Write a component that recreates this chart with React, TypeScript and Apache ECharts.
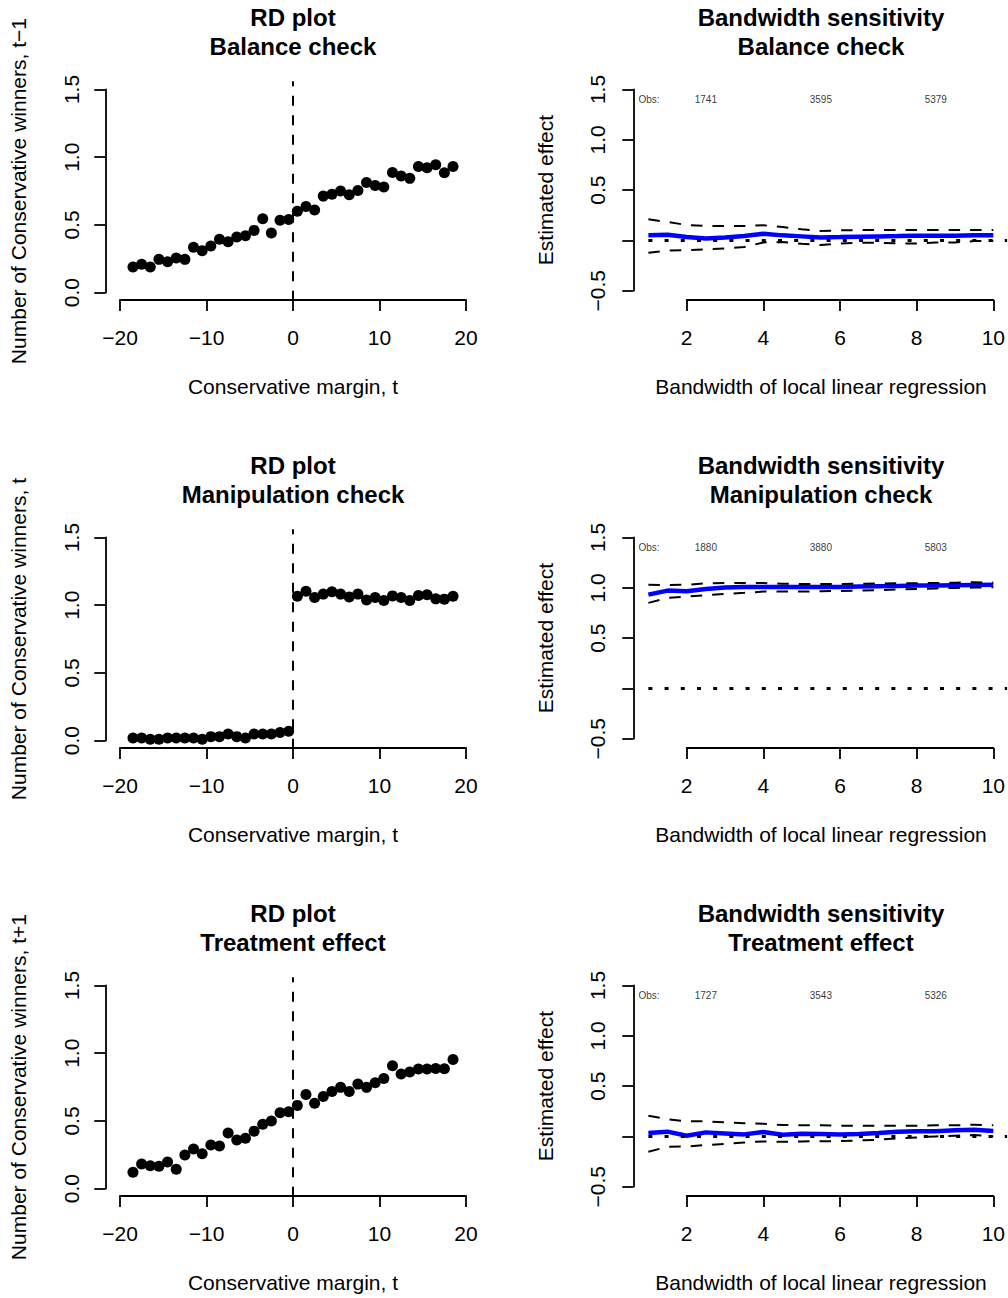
import React, { useEffect, useRef } from "react";
import * as echarts from "echarts";

// ---------- DATA ----------
const marginBins = [
  -18.5, -17.5, -16.5, -15.5, -14.5, -13.5, -12.5, -11.5, -10.5, -9.5, -8.5, -7.5, -6.5, -5.5, -4.5, -3.5, -2.5, -1.5, -0.5,
  0.5, 1.5, 2.5, 3.5, 4.5, 5.5, 6.5, 7.5, 8.5, 9.5, 10.5, 11.5, 12.5, 13.5, 14.5, 15.5, 16.5, 17.5, 18.5,
];

const balanceWinners = [
  0.19, 0.21, 0.19, 0.246, 0.229, 0.256, 0.246, 0.335, 0.31, 0.344, 0.394, 0.376, 0.411, 0.42, 0.46, 0.546, 0.44, 0.534, 0.541,
  0.602, 0.637, 0.61, 0.713, 0.726, 0.75, 0.723, 0.755, 0.814, 0.792, 0.78, 0.888, 0.861, 0.844, 0.932, 0.922, 0.944, 0.885, 0.932,
];

const manipulationWinners = [
  0.02, 0.02, 0.01, 0.01, 0.02, 0.02, 0.02, 0.02, 0.01, 0.03, 0.03, 0.05, 0.03, 0.02, 0.05, 0.05, 0.05, 0.06, 0.07,
  1.067, 1.104, 1.057, 1.082, 1.099, 1.082, 1.06, 1.082, 1.038, 1.057, 1.035, 1.069, 1.057, 1.035, 1.072, 1.077, 1.047, 1.045, 1.067,
];

const treatmentWinners = [
  0.121, 0.182, 0.17, 0.165, 0.197, 0.143, 0.249, 0.293, 0.258, 0.322, 0.315, 0.411, 0.359, 0.372, 0.425, 0.475, 0.499, 0.561, 0.568,
  0.615, 0.696, 0.63, 0.681, 0.718, 0.748, 0.718, 0.772, 0.748, 0.782, 0.814, 0.907, 0.846, 0.861, 0.883, 0.883, 0.888, 0.885, 0.954,
];

const bandwidths = [1, 1.5, 2, 2.5, 3, 3.5, 4, 4.5, 5, 5.5, 6, 6.5, 7, 7.5, 8, 8.5, 9, 9.5, 10];

const balanceEst = [0.05, 0.056, 0.033, 0.02, 0.03, 0.043, 0.066, 0.05, 0.04, 0.03, 0.033, 0.037, 0.04, 0.043, 0.047, 0.047, 0.047, 0.05, 0.05];
const balanceUpper = [0.21, 0.183, 0.153, 0.143, 0.143, 0.143, 0.15, 0.133, 0.11, 0.093, 0.1, 0.103, 0.103, 0.103, 0.103, 0.103, 0.103, 0.103, 0.103];
const balanceLower = [-0.123, -0.1, -0.096, -0.09, -0.08, -0.066, -0.02, -0.017, -0.033, -0.046, -0.03, -0.023, -0.023, -0.03, -0.03, -0.02, -0.02, -0.007, -0.007];

const manipulationEst = [0.932, 0.972, 0.965, 0.989, 1.002, 1.009, 1.009, 1.009, 1.009, 1.009, 1.009, 1.012, 1.015, 1.018, 1.022, 1.024, 1.026, 1.028, 1.03];
const manipulationUpper = [1.03, 1.027, 1.03, 1.045, 1.048, 1.048, 1.048, 1.04, 1.038, 1.038, 1.038, 1.04, 1.042, 1.045, 1.045, 1.048, 1.05, 1.055, 1.052];
const manipulationLower = [0.85, 0.9, 0.913, 0.925, 0.94, 0.95, 0.962, 0.962, 0.962, 0.965, 0.969, 0.973, 0.976, 0.983, 0.989, 0.994, 0.999, 1.002, 1.005];

const treatmentEst = [0.033, 0.047, 0.007, 0.04, 0.03, 0.02, 0.043, 0.017, 0.027, 0.025, 0.02, 0.025, 0.033, 0.047, 0.05, 0.05, 0.06, 0.066, 0.053];
const treatmentUpper = [0.206, 0.17, 0.15, 0.15, 0.14, 0.13, 0.125, 0.113, 0.11, 0.11, 0.107, 0.107, 0.107, 0.107, 0.107, 0.11, 0.11, 0.116, 0.11];
const treatmentLower = [-0.153, -0.103, -0.1, -0.085, -0.076, -0.06, -0.05, -0.053, -0.05, -0.047, -0.047, -0.04, -0.033, -0.02, -0.01, 0.0, 0.007, 0.013, 0.0];

const obsBandwidths = [2.5, 5.5, 8.5];
const balanceObs = [1741, 3595, 5379];
const manipulationObs = [1880, 3880, 5803];
const treatmentObs = [1727, 3543, 5326];

const rowSubtitles = ["Balance check", "Manipulation check", "Treatment effect"];
const leftYTitles = [
  "Number of Conservative winners, t\u22121",
  "Number of Conservative winners, t",
  "Number of Conservative winners, t+1",
];
const leftXTitle = "Conservative margin, t";
const rightXTitle = "Bandwidth of local linear regression";
const rightYTitle = "Estimated effect";

// ---------- LAYOUT ----------
const FONT = "'Liberation Sans', Arial, Helvetica, sans-serif";
const AXIS_FS = 21;
const rowOffsets = [0, 448, 896];
const L = { left: 120, width: 346, top: 89.5, height: 203.2, xOff: 7.3, yOff: 14.7 };
const R = { left: 686.7, width: 306.6, top: 89.5, height: 201.2, xOff: 9.3, yOff: 53.4 };
// plot region (usr) of the right panels, used for the data layer
const RIGHT_USR_X = [0.64, 10.36];
const LEFT_USR_Y = [-0.06, 1.56];
const ZERO_LINE_START = 1.0;
const OBS_LABEL_X = 0.74;
const OBS_LABEL_Y = 1.4;

const minus = (s: string) => s.replace("-", "\u2212");

function axisBase(extra: any) {
  return {
    axisLine: { show: true, onZero: false, lineStyle: { color: "#000", width: 1.8 } },
    axisTick: { show: true, inside: false, length: 11, lineStyle: { color: "#000", width: 1.8 } },
    splitLine: { show: false },
    nameTextStyle: { color: "#000", fontSize: AXIS_FS, fontFamily: FONT },
    ...extra,
  };
}

const hiddenAxis = (extra: any) => ({
  type: "value",
  show: false,
  axisLine: { show: false },
  axisTick: { show: false },
  axisLabel: { show: false },
  splitLine: { show: false },
  ...extra,
});

function buildOption() {
  const grid: any[] = [];
  const xAxis: any[] = [];
  const yAxis: any[] = [];
  const series: any[] = [];
  const graphic: any[] = [];

  const leftData = [balanceWinners, manipulationWinners, treatmentWinners];
  const est = [balanceEst, manipulationEst, treatmentEst];
  const upper = [balanceUpper, manipulationUpper, treatmentUpper];
  const lower = [balanceLower, manipulationLower, treatmentLower];
  const obs = [balanceObs, manipulationObs, treatmentObs];

  const pxPerUnitR = R.width / 8;
  const usrLeftPx = R.left - (2 - RIGHT_USR_X[0]) * pxPerUnitR;
  const usrWidthPx = (RIGHT_USR_X[1] - RIGHT_USR_X[0]) * pxPerUnitR;

  rowOffsets.forEach((off, r) => {
    // ---- left RD plot ----
    const gi = grid.length;
    grid.push({ left: L.left, width: L.width, top: L.top + off, height: L.height });
    xAxis.push(
      axisBase({
        gridIndex: gi,
        type: "value",
        min: -20,
        max: 20,
        interval: 10,
        offset: L.xOff,
        name: leftXTitle,
        nameLocation: "middle",
        nameGap: 76,
        axisLabel: { color: "#000", fontSize: AXIS_FS, fontFamily: FONT, margin: 26.5, formatter: (v: number) => minus(String(v)) },
      })
    );
    yAxis.push(
      axisBase({
        gridIndex: gi,
        type: "value",
        min: 0,
        max: 1.5,
        interval: 0.5,
        offset: L.yOff,
        name: leftYTitles[r],
        nameLocation: "middle",
        nameGap: 76.5,
        axisLabel: { color: "#000", fontSize: AXIS_FS, fontFamily: FONT, margin: 23, rotate: 90, formatter: (v: number) => v.toFixed(1) },
      })
    );
    series.push({
      type: "line",
      xAxisIndex: gi,
      yAxisIndex: gi,
      data: [[0, LEFT_USR_Y[0]], [0, LEFT_USR_Y[1]]],
      symbol: "none",
      clip: false,
      silent: true,
      lineStyle: { color: "#000", width: 2, type: [10, 9.5] },
    });
    series.push({
      type: "scatter",
      xAxisIndex: gi,
      yAxisIndex: gi,
      data: marginBins.map((x, i) => [x, leftData[r][i]]),
      symbol: "circle",
      symbolSize: 11,
      itemStyle: { color: "#000", opacity: 1 },
      clip: false,
    });
    graphic.push({
      type: "text",
      x: 293,
      y: 31.7 + off,
      style: {
        text: "RD plot\n" + rowSubtitles[r],
        fontSize: 24,
        fontWeight: "bold",
        fontFamily: FONT,
        lineHeight: 28.8,
        align: "center",
        verticalAlign: "middle",
        fill: "#000",
      },
    });

    // ---- right sensitivity plot: visible axes ----
    const gj = grid.length;
    grid.push({ left: R.left, width: R.width, top: R.top + off, height: R.height });
    xAxis.push(
      axisBase({
        gridIndex: gj,
        type: "value",
        min: 2,
        max: 10,
        interval: 2,
        offset: R.xOff,
        name: rightXTitle,
        nameLocation: "middle",
        nameGap: 76,
        nameTextStyle: { color: "#000", fontSize: AXIS_FS, fontFamily: FONT, padding: [0, 38, 0, 0] },
        axisLabel: { color: "#000", fontSize: AXIS_FS, fontFamily: FONT, margin: 26.5, formatter: (v: number) => String(v) },
      })
    );
    yAxis.push(
      axisBase({
        gridIndex: gj,
        type: "value",
        min: -0.5,
        max: 1.5,
        interval: 0.5,
        offset: R.yOff,
        name: rightYTitle,
        nameLocation: "middle",
        nameGap: 77,
        axisLabel: {
          color: "#000",
          fontSize: AXIS_FS,
          fontFamily: FONT,
          margin: 25,
          rotate: 90,
          formatter: (v: number) => (Math.abs(v) < 1e-9 ? "" : minus(v.toFixed(1))),
        },
      })
    );

    // ---- right sensitivity plot: data layer over the full plot region ----
    const gk = grid.length;
    grid.push({ left: usrLeftPx, width: usrWidthPx, top: R.top + off, height: R.height });
    xAxis.push(hiddenAxis({ gridIndex: gk, min: RIGHT_USR_X[0], max: RIGHT_USR_X[1] }));
    yAxis.push(hiddenAxis({ gridIndex: gk, min: -0.5, max: 1.5 }));

    series.push({
      type: "line",
      xAxisIndex: gk,
      yAxisIndex: gk,
      data: bandwidths.map((b, i) => [b, est[r][i]]),
      symbol: "none",
      lineStyle: { color: "#0000FF", width: 4.5 },
    });
    series.push({
      type: "line",
      xAxisIndex: gk,
      yAxisIndex: gk,
      data: bandwidths.map((b, i) => [b, upper[r][i]]),
      symbol: "none",
      lineStyle: { color: "#000", width: 2, type: [11.5, 10] },
    });
    series.push({
      type: "line",
      xAxisIndex: gk,
      yAxisIndex: gk,
      data: bandwidths.map((b, i) => [b, lower[r][i]]),
      symbol: "none",
      lineStyle: { color: "#000", width: 2, type: [11.5, 10] },
    });
    series.push({
      type: "line",
      xAxisIndex: gk,
      yAxisIndex: gk,
      data: [[ZERO_LINE_START, 0], [RIGHT_USR_X[1], 0]],
      symbol: "none",
      silent: true,
      lineStyle: { color: "#000", width: 3, type: [4, 12.2] },
    });
    series.push({
      type: "scatter",
      xAxisIndex: gk,
      yAxisIndex: gk,
      symbolSize: 0,
      silent: true,
      label: {
        show: true,
        position: "inside",
        color: "#000",
        fontSize: 10,
        fontFamily: FONT,
        formatter: (p: any) => p.value[2],
      },
      data: [
        { value: [OBS_LABEL_X, OBS_LABEL_Y, "Obs:"], label: { align: "left" } },
        ...obsBandwidths.map((b, i) => ({ value: [b, OBS_LABEL_Y, String(obs[r][i])] })),
      ],
    });
    graphic.push({
      type: "text",
      x: 821,
      y: 31.7 + off,
      style: {
        text: "Bandwidth sensitivity\n" + rowSubtitles[r],
        fontSize: 24,
        fontWeight: "bold",
        fontFamily: FONT,
        lineHeight: 28.8,
        align: "center",
        verticalAlign: "middle",
        fill: "#000",
      },
    });
  });

  return {
    animation: false,
    backgroundColor: "#fff",
    textStyle: { fontFamily: FONT },
    grid,
    xAxis,
    yAxis,
    series,
    graphic,
  };
}

export default function App() {
  const ref = useRef<HTMLDivElement>(null);
  useEffect(() => {
    if (!ref.current) return;
    const chart = echarts.init(ref.current, null, { renderer: "svg" });
    chart.setOption(buildOption() as any);
    return () => chart.dispose();
  }, []);
  return (
    <div
      ref={ref}
      style={{ position: "absolute", left: 0, top: 0, width: 1008, height: 1298, background: "#fff" }}
    />
  );
}
